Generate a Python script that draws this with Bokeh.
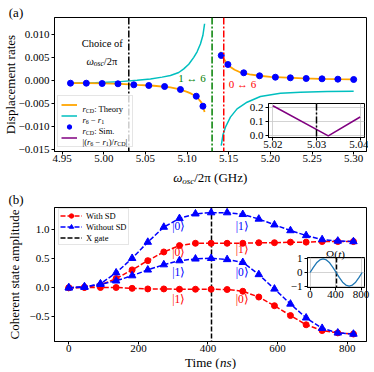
from math import pi
from bokeh.plotting import figure
from bokeh.models import Range1d, FixedTicker, Label, Span, Legend, LegendItem
from bokeh.layouts import column
from bokeh.embed import file_html
from bokeh.resources import INLINE
from bokeh.core.properties import value

FONT = "Liberation Serif"

# ---------------- panel (a) data ----------------
sim_freq_left = [4.960, 4.979, 4.998, 5.017, 5.036, 5.054, 5.073, 5.092, 5.111, 5.119]
sim_rate_left = [-0.00052, -0.00052, -0.00059, -0.00065, -0.00087, -0.00102, -0.00124, -0.00189, -0.00335, -0.00552]
sim_freq_right = [5.141, 5.149, 5.168, 5.187, 5.206, 5.224, 5.243, 5.262, 5.281, 5.300]
sim_rate_right = [0.00550, 0.00354, 0.00174, 0.00109, 0.00078, 0.00065, 0.00050, 0.00043, 0.00035, 0.00028]

theory_freq_left = [4.960, 4.980, 5.000, 5.020, 5.040, 5.060, 5.080, 5.090, 5.100, 5.105, 5.110, 5.114, 5.117, 5.119, 5.121]
theory_rate_left = [-0.00050, -0.00052, -0.00058, -0.00068, -0.00090, -0.00108, -0.00145, -0.00182, -0.00240, -0.00280,
                    -0.00330, -0.00400, -0.00470, -0.00550, -0.00680]
theory_freq_right = [5.140, 5.142, 5.145, 5.148, 5.152, 5.157, 5.163, 5.168, 5.175, 5.187, 5.200, 5.220, 5.240, 5.260, 5.280, 5.300]
theory_rate_right = [0.00630, 0.00530, 0.00450, 0.00370, 0.00300, 0.00240, 0.00190, 0.00168, 0.00140, 0.00110,
                     0.00086, 0.00068, 0.00053, 0.00043, 0.00036, 0.00030]

diff_freq_left = [4.960, 4.990, 5.020, 5.040, 5.056, 5.070, 5.080, 5.090, 5.096, 5.102, 5.108, 5.112, 5.116, 5.119, 5.121]
diff_rate_left = [-0.00050, -0.00042, -0.00018, 0.00010, 0.00040, 0.00080, 0.00115, 0.00180, 0.00260, 0.00360,
                  0.00510, 0.00630, 0.00800, 0.00990, 0.01240]
diff_freq_right = [5.141, 5.143, 5.146, 5.152, 5.160, 5.172, 5.188, 5.212, 5.236, 5.268, 5.300]
diff_rate_right = [-0.01410, -0.01180, -0.01010, -0.00790, -0.00610, -0.00465, -0.00340, -0.00270, -0.00248, -0.00233, -0.00226]

choice_freq = 5.030
res_1_6 = 5.130
res_0_6 = 5.144

ratio_freq = [5.020, 5.0327, 5.040]
ratio_val = [0.215, 0.000, 0.135]

a_xticks = [4.95, 5.00, 5.05, 5.10, 5.15, 5.20, 5.25, 5.30]
a_yticks = [-0.015, -0.010, -0.005, 0.0, 0.005, 0.010]
ia_xticks = [5.02, 5.03, 5.04]
ia_yticks = [0.0, 0.1, 0.2]

# ---------------- panel (b) data ----------------
time_ns = [0, 45, 91, 136, 182, 227, 273, 318, 364, 409, 455, 500, 546, 591, 637, 682, 728, 773, 818]
with_sd_ket0 = [0.00, 0.01, 0.05, 0.16, 0.31, 0.47, 0.62, 0.73, 0.77, 0.77, 0.77, 0.77, 0.78, 0.78, 0.79, 0.79, 0.80, 0.80, 0.80]
with_sd_ket1 = [0.00, 0.005, 0.005, 0.005, -0.01, -0.02, -0.02, -0.025, -0.025, -0.025, -0.03, -0.06, -0.16, -0.31, -0.48,
                -0.64, -0.74, -0.78, -0.80]
without_sd_ket0 = [0.00, 0.01, 0.07, 0.26, 0.51, 0.79, 1.05, 1.20, 1.28, 1.30, 1.30, 1.27, 1.19, 1.09, 0.99, 0.905, 0.835, 0.81, 0.80]
without_sd_ket1 = [0.00, 0.02, 0.06, 0.12, 0.21, 0.31, 0.40, 0.47, 0.50, 0.51, 0.49, 0.44, 0.23, -0.02, -0.28, -0.52,
                   -0.70, -0.78, -0.80]
x_gate_time = [410]

omega_time = [0, 51, 102, 153, 205, 256, 307, 358, 409, 460, 511, 562, 614, 665, 716, 767, 818]
omega_val = [0.0, 0.38, 0.71, 0.92, 1.0, 0.92, 0.71, 0.38, 0.0, -0.38, -0.71, -0.92, -1.0, -0.92, -0.71, -0.38, 0.0]

b_xticks = [0, 200, 400, 600, 800]
b_yticks = [-0.5, 0.0, 0.5, 1.0]
ib_xticks = [0, 400, 800]
ib_yticks = [-1, 0, 1]

# ---------------- helpers ----------------
ROMAN = {' ': 0.25, '(': 0.333, ')': 0.333, '/': 0.278, '|': 0.2, ':': 0.278, '.': 0.25, '−': 0.564,
         'T': 0.611, 'h': 0.5, 'e': 0.444, 'o': 0.5, 'r': 0.333, 'y': 0.5, 'S': 0.556, 'i': 0.278,
         'm': 0.778, 'C': 0.667, 'D': 0.722, 'G': 0.722, 'H': 0.722, 'z': 0.444, 'π': 0.55, 'Ω': 0.77}
ITALIC = {'r': 0.389, 'n': 0.5, 's': 0.389, 'o': 0.5, 'c': 0.444, 't': 0.278, 'ω': 0.69}


def text_w(s, size, italic):
    tbl = ITALIC if italic else ROMAN
    return size * sum(tbl.get(c, ROMAN.get(c, 0.5)) for c in s)


class PageMap:
    """convert page pixel positions to a figure's data coordinates"""
    def __init__(self, fl, ft, fr, fb, xr, yr):
        self.fl, self.ft, self.fr, self.fb = fl, ft, fr, fb
        self.xr, self.yr = xr, yr

    def x(self, px):
        return self.xr[0] + (px - self.fl) / (self.fr - self.fl) * (self.xr[1] - self.xr[0])

    def y(self, py):
        return self.yr[1] - (py - self.ft) / (self.fb - self.ft) * (self.yr[1] - self.yr[0])


def rich(p, m, px, baseline, parts, align="left", color="black"):
    total = sum(text_w(t, s, it) for t, s, it, dy in parts)
    x = px - total / 2 if align == "center" else px
    for t, s, it, dy in parts:
        lead = len(t) - len(t.lstrip())
        p.add_layout(Label(x=m.x(x + lead * 0.25 * s), y=m.y(baseline + dy), text=t.strip(),
                           text_font=FONT, text_font_size=f"{s}px",
                           text_font_style="italic" if it else "normal", text_color=color,
                           text_align="left", text_baseline="alphabetic"))
        x += text_w(t, s, it)


def plain(p, m, px, py, text, size, color="black", angle=0.0, style="normal"):
    p.add_layout(Label(x=m.x(px), y=m.y(py), text=text, text_font=FONT, text_font_size=f"{size}px",
                       text_color=color, text_align="center", text_baseline="middle", angle=angle,
                       text_font_style=style))


def fmt_overrides(ticks, f):
    out = {}
    for t in ticks:
        lab = (f % t).replace("-", "−")
        out[float(t)] = lab
        key = str(int(t)) if float(t).is_integer() else repr(float(t))
        out[key] = lab
    return out


def base_fig(w, h, xr, yr, ml, mr, mt, mb, xticks, yticks, xf, yf, fs="11px"):
    p = figure(width=w, height=h, x_range=Range1d(*xr), y_range=Range1d(*yr),
               output_backend="svg", toolbar_location=None, frame_align=False,
               min_border_left=ml, min_border_right=mr, min_border_top=mt, min_border_bottom=mb)
    p.xgrid.visible = False
    p.ygrid.visible = False
    p.outline_line_color = "black"
    p.outline_line_alpha = 1.0
    p.outline_line_width = 1
    p.background_fill_color = "white"
    p.border_fill_color = "white"
    for ax in (p.xaxis[0], p.yaxis[0]):
        ax.axis_line_color = "black"
        ax.major_tick_line_color = "black"
        ax.major_tick_out = 3
        ax.major_tick_in = 0
        ax.minor_tick_out = 0
        ax.minor_tick_in = 0
        ax.major_label_text_font = FONT
        ax.major_label_text_font_size = fs
        ax.major_label_text_color = "black"
    p.xaxis[0].ticker = FixedTicker(ticks=xticks)
    p.yaxis[0].ticker = FixedTicker(ticks=yticks)
    p.xaxis[0].major_label_overrides = fmt_overrides(xticks, xf)
    p.yaxis[0].major_label_overrides = fmt_overrides(yticks, yf)
    p.xaxis[0].major_label_standoff = 0
    p.yaxis[0].major_label_standoff = 2
    return p


PA_H, PB_H, PAGE_W = 191, 178, 372
OV_W, OV_H = PAGE_W, PA_H + PB_H   # overlay matches the column box exactly

# transparent overlay that carries the texts lying outside the plot frames
ov = figure(width=OV_W, height=OV_H, x_range=Range1d(0, OV_W), y_range=Range1d(0, OV_H),
            x_axis_location=None, y_axis_location=None, min_border=0, toolbar_location=None,
            output_backend="svg", frame_align=False)
ov.outline_line_color = None
ov.background_fill_color = None
ov.border_fill_color = None
ov.xgrid.visible = False
ov.ygrid.visible = False
mo = PageMap(0, 0, OV_W, OV_H, (0, OV_W), (0, OV_H))

# ================= panel (a) =================
A_XR = (4.9408, 5.3154)
A_YR = (-0.01537, 0.01376)
pa = base_fig(PAGE_W, PA_H, A_XR, A_YR, 54, 6, 17, 40, a_xticks, a_yticks, "%.2f", "%.3f")
ma = PageMap(54, 17, 366, 151, A_XR, A_YR)

for loc, col in ((choice_freq, "black"), (res_1_6, "green"), (res_0_6, "red")):
    pa.add_layout(Span(location=loc, dimension="height", line_color=col, line_width=1.5, line_dash="7 2 2 2"))

r_diff = pa.line(diff_freq_left, diff_rate_left, line_color="#00bfbf", line_width=1.5)
pa.line(diff_freq_right, diff_rate_right, line_color="#00bfbf", line_width=1.5)
r_theory = pa.line(theory_freq_left, theory_rate_left, line_color="orange", line_width=1.8)
pa.line(theory_freq_right, theory_rate_right, line_color="orange", line_width=1.8)
r_sim = pa.scatter(sim_freq_left, sim_rate_left, size=6, color="blue")
pa.scatter(sim_freq_right, sim_rate_right, size=6, color="blue")
# the ratio curve lives in the inset; in the main panel it is mapped to an out-of-view range
# so that it only provides the legend key
pa.extra_y_ranges = {"inset_ratio": Range1d(1.0, 2.0)}
r_ratio_key = pa.line(ratio_freq, ratio_val, y_range_name="inset_ratio", line_color="purple", line_width=1.5)

plain(pa, ma, 101.7, 43.3, "Choice of", 10.5)
rich(pa, ma, 101.7, 60.8, [("ω", 10.5, True, 0), ("osc", 7.5, True, 2), ("/2π", 10.5, False, 0)], align="center")
plain(pa, ma, 191.5, 77.0, "1 ↔ 6", 11, color="green")
plain(pa, ma, 242.0, 83.5, "0 ↔ 6", 11, color="red")

leg_a = Legend(items=[LegendItem(label=value(" "), renderers=[r_theory]),
                      LegendItem(label=value(" "), renderers=[r_diff]),
                      LegendItem(label=value(" "), renderers=[r_sim]),
                      LegendItem(label=value(" "), renderers=[r_ratio_key])],
               location=(3, 4), padding=3, spacing=0, margin=0, glyph_width=16, glyph_height=11,
               label_height=11, label_width=46, label_standoff=6, label_text_font_size="8px",
               border_line_color="#cccccc", border_line_width=1,
               background_fill_color="white", background_fill_alpha=0.8)
pa.add_layout(leg_a)

LX = 82
rows = [105.5, 116.5, 127.5, 138.5]
rich(ov, mo, LX, rows[0] + 3, [("r", 8.5, True, 0), ("CD", 6, False, 2), (": Theory", 8.5, False, 0)])
rich(ov, mo, LX, rows[1] + 3, [("r", 8.5, True, 0), ("6", 6, False, 2), (" − ", 8.5, False, 0),
                               ("r", 8.5, True, 0), ("1", 6, False, 2)])
rich(ov, mo, LX, rows[2] + 3, [("r", 8.5, True, 0), ("CD", 6, False, 2), (": Sim.", 8.5, False, 0)])
rich(ov, mo, LX, rows[3] + 3, [("|(", 8.5, False, 0), ("r", 8.5, True, 0), ("6", 6, False, 2),
                               (" − ", 8.5, False, 0), ("r", 8.5, True, 0), ("1", 6, False, 2),
                               (")/", 8.5, False, 0), ("r", 8.5, True, 0), ("CD", 6, False, 2),
                               ("|", 8.5, False, 0)])

plain(ov, mo, 15.5, 11.5, "(a)", 13)
plain(ov, mo, 9.5, 84, "Displacement rates", 13, angle=pi / 2)
rich(ov, mo, 210, 177, [("ω", 13, True, 0), ("osc", 9, True, 3), ("/2π (GHz)", 13, False, 0)], align="center")

# ================= panel (b) =================
B_XR = (-41.1, 855.5)
B_YR = (-0.929, 1.389)
pb = base_fig(PAGE_W, PB_H, B_XR, B_YR, 54, 6, 16, PB_H - 16 - 134, b_xticks, b_yticks, "%d", "%.1f")
mb = PageMap(54, 207, 366, 341, B_XR, B_YR)

DASH = "5 2"
xg = pb.vspan(x=x_gate_time, line_color="black", line_width=1.5, line_dash=DASH)
rl0 = pb.line(time_ns, with_sd_ket0, line_color="red", line_width=1.5, line_dash=DASH)
rs0 = pb.scatter(time_ns, with_sd_ket0, size=6, color="red")
pb.line(time_ns, with_sd_ket1, line_color="red", line_width=1.5, line_dash=DASH)
pb.scatter(time_ns, with_sd_ket1, size=6, color="red")
bl0 = pb.line(time_ns, without_sd_ket0, line_color="blue", line_width=1.5, line_dash=DASH)
bs0 = pb.scatter(time_ns, without_sd_ket0, size=7.5, marker="triangle", color="blue")
pb.line(time_ns, without_sd_ket1, line_color="blue", line_width=1.5, line_dash=DASH)
pb.scatter(time_ns, without_sd_ket1, size=7.5, marker="triangle", color="blue")

leg_b = Legend(items=[LegendItem(label=value("With SD"), renderers=[rl0, rs0]),
                      LegendItem(label=value("Without SD"), renderers=[bl0, bs0]),
                      LegendItem(label=value("X gate"), renderers=[xg])],
               location=(4, 96), padding=1, spacing=0, margin=0, glyph_width=22, glyph_height=11,
               label_height=11, label_standoff=4, label_text_font=FONT, label_text_font_size="8.5px",
               label_text_color="black", border_line_color="#cccccc", border_line_width=1,
               background_fill_color="white", background_fill_alpha=0.8)
pb.add_layout(leg_b)

KS = 11.5
plain(pb, mb, 178.3, 225.7, "|0⟩", KS, color="blue")
plain(pb, mb, 178.3, 251.7, "|0⟩", KS, color="red")
plain(pb, mb, 178.3, 271.0, "|1⟩", KS, color="blue")
plain(pb, mb, 178.3, 298.3, "|1⟩", KS, color="red")
plain(pb, mb, 241.7, 225.0, "|1⟩", KS, color="blue")
plain(pb, mb, 241.7, 248.3, "|1⟩", KS, color="red")
plain(pb, mb, 241.7, 271.7, "|0⟩", KS, color="blue")
plain(pb, mb, 241.7, 298.3, "|0⟩", KS, color="red")

plain(ov, mo, 15.5, 198.5, "(b)", 13)
plain(ov, mo, 13.5, 274, "Coherent state amplitude", 13, angle=pi / 2)
rich(ov, mo, 210, 361.5, [("Time (", 13, False, 0), ("ns", 13, True, 0), (")", 13, False, 0)], align="center")

# ================= inset (a) =================
IA_XR = (5.019, 5.041)
IA_YR = (-0.011, 0.231)
ia = base_fig(126, 53, IA_XR, IA_YR, 26, 4, 2, 17, ia_xticks, ia_yticks, "%.2f", "%.1f")
ia.border_fill_color = None
ia.xgrid.visible = True
ia.ygrid.visible = True
ia.grid.grid_line_color = "#c8c8c8"
ia.grid.grid_line_width = 0.8
ia.add_layout(Span(location=choice_freq, dimension="height", line_color="black", line_width=1.5, line_dash="7 2 2 2"))
ia.line(ratio_freq, ratio_val, line_color="purple", line_width=1.5)
ia.styles = {"position": "absolute", "left": "242px", "top": "101px"}

# ================= inset (b) =================
IB_XR = (-41, 855)
IB_YR = (-1.1, 1.1)
ib = base_fig(84, 61, IB_XR, IB_YR, 18, 7, 14, 17, ib_xticks, ib_yticks, "%d", "%d")
ib.border_fill_color = None
ib.xgrid.visible = True
ib.ygrid.visible = True
ib.grid.grid_line_color = "#c8c8c8"
ib.grid.grid_line_width = 0.8
ib.vspan(x=x_gate_time, line_color="black", line_width=1.5, line_dash=DASH)
ib.line(omega_time, omega_val, line_color="#1f77b4", line_width=1.3)
ib.styles = {"position": "absolute", "left": "287px", "top": "243px"}
rich(ov, mo, 335, 253.0, [("Ω(", 11, False, 0), ("t", 11, True, 0), (")", 11, False, 0)], align="center")

ov.styles = {"position": "absolute", "left": "0px", "top": "0px"}

layout = column(pa, pb, ia, ib, ov)

open("out.html", "w").write(file_html(layout, INLINE))
